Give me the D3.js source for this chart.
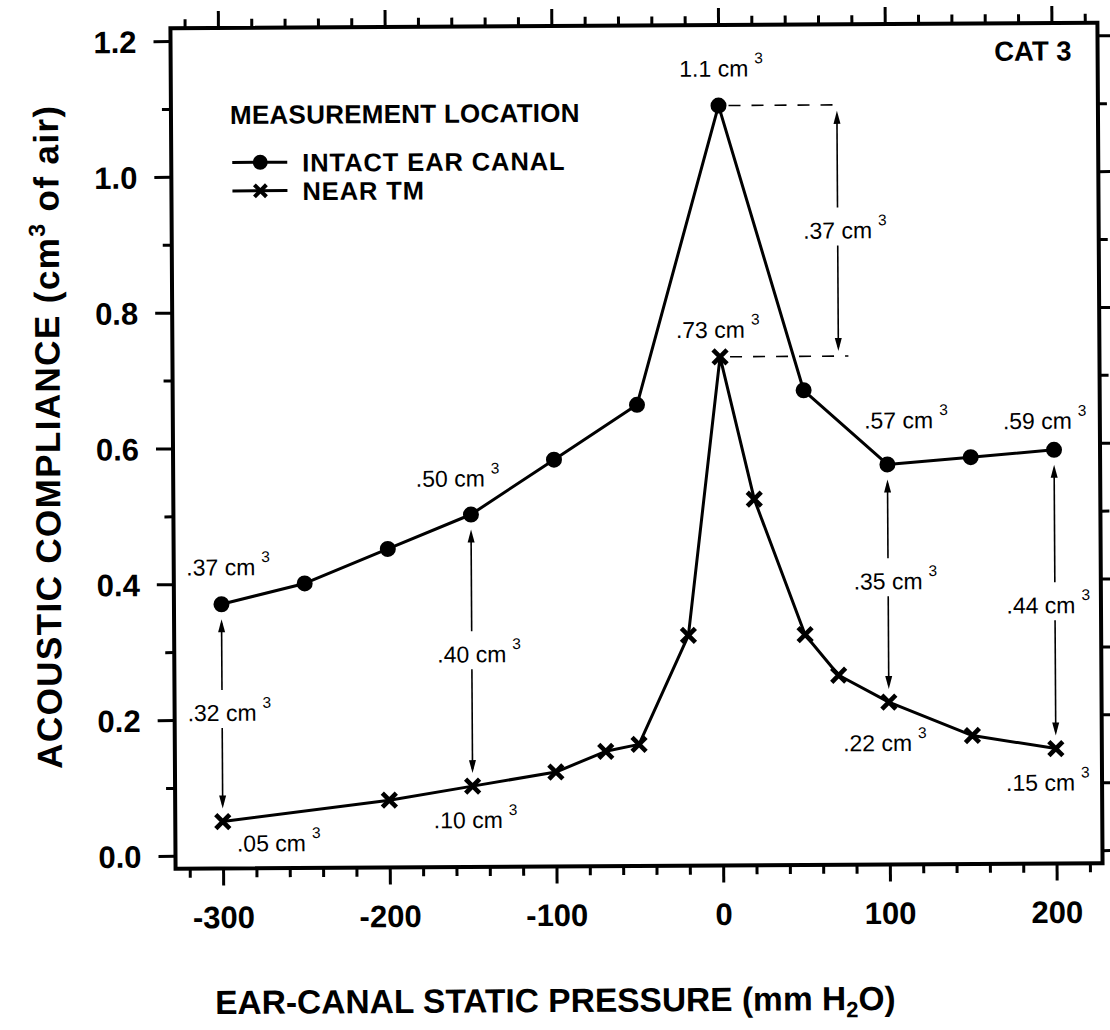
<!DOCTYPE html>
<html>
<head>
<meta charset="utf-8">
<script src="https://cdn.jsdelivr.net/npm/d3@7"></script>
<style>
  html, body { margin: 0; padding: 0; background: #fff; }
  svg { display: block; font-family: "Liberation Sans", Arial, Helvetica, sans-serif; }
</style>
</head>
<body>
<svg id="chart" width="1110" height="1030"></svg>
<script>
// ---- data: acoustic compliance vs. ear-canal static pressure (CAT 3) ----
const intactPressure   = [-300, -250, -200, -150, -100, -50, 0, 50, 100, 150, 200];
const intactCompliance = [0.37, 0.40, 0.45, 0.50, 0.58, 0.66, 1.10, 0.68, 0.57, 0.58, 0.59];

const nearTmPressure   = [-300, -200, -150, -100, -70, -50, -20, 0, 20, 50, 70, 100, 150, 200];
const nearTmCompliance = [0.05, 0.08, 0.10, 0.12, 0.15, 0.16, 0.32, 0.73, 0.52, 0.32, 0.26, 0.22, 0.17, 0.15];

const xMajorTicks = [-300, -200, -100, 0, 100, 200];
const xTickLabels = ["-300", "-200", "-100", "0", "100", "200"];
const yMajorTicks = [0.0, 0.2, 0.4, 0.6, 0.8, 1.0, 1.2];
const yTickLabels = ["0.0", "0.2", "0.4", "0.6", "0.8", "1.0", "1.2"];

// pressures whose values are written next to the markers
const labeledPressures = [-300, -150, 0, 100, 200];
// pressures where the gap between the two curves is marked with an arrow
const gapPressures = [-300, -150, 100, 200];
// pressure column that carries the peak-to-peak arrow
const peakArrowPressure = 71;

const seriesNames = ["INTACT EAR CANAL", "NEAR TM"];

// ---- layout ----
const frame = { left: 173, right: 1100, top: 25.5, bottom: 866 };

const labelOffset = {
  "intact:-300": [-35, -29], "intact:-150": [-55, -28], "intact:0": [-39, -29],
  "intact:100": [-23, -36],  "intact:200": [-51, -21],
  "near:-300": [14, 30],     "near:-150": [-39, 42],    "near:0": [-44, -19],
  "near:100": [-46, 49],     "near:200": [-50, 42]
};
const gapLayout = { "-300": [0, 8], "-150": [0, 12], "100": [0, 6], "200": [-14, 14] };

const svg = d3.select("#chart");
const root = svg.append("g").attr("transform", "rotate(-0.35,636,447)");

const x = d3.scaleLinear().domain([-300, 200]).range([220.5, 1054]);
const y = d3.scaleLinear().domain([0, 1.2]).range([853, 38.2]);

const round2 = v => Math.round(v * 100) / 100;
const fmtVal = v => v >= 1 ? d3.format(".1f")(v) : d3.format(".2f")(v).replace(/^0/, "");

// ---- axes (ticks outward on all four sides) ----
const xMinor = d3.range(-320, 221, 20).filter(v => v % 100 !== 0);
const yMinor = d3.range(1, 12, 2).map(v => v / 10);
const MAJ = 17, MIN = 9;

function styleAxis(sel) {
  sel.select(".domain").remove();
  sel.selectAll(".tick line").attr("stroke", "#000").attr("stroke-width", 3);
}

const gBottom = root.append("g").attr("transform", `translate(0,${frame.bottom})`);
gBottom.append("g").call(d3.axisBottom(x).tickValues(xMinor).tickSize(MIN).tickFormat("")).call(styleAxis);
const gBottomMajor = gBottom.append("g")
  .call(d3.axisBottom(x).tickValues(xMajorTicks).tickSize(MAJ).tickSizeOuter(0)
    .tickFormat((d, i) => xTickLabels[i]))
  .call(styleAxis);
gBottomMajor.selectAll(".tick text")
  .attr("y", 59.5).attr("dy", null)
  .attr("fill", "#000").attr("font-size", 31).attr("font-weight", "bold")
  .attr("font-family", "'Liberation Sans', Arial, sans-serif");

const gTop = root.append("g").attr("transform", `translate(0,${frame.top})`);
gTop.append("g").call(d3.axisTop(x).tickValues(xMinor).tickSize(MIN).tickFormat("")).call(styleAxis);
gTop.append("g").call(d3.axisTop(x).tickValues(xMajorTicks).tickSize(MAJ).tickFormat("")).call(styleAxis);

const gLeft = root.append("g").attr("transform", `translate(${frame.left},0)`);
gLeft.append("g").call(d3.axisLeft(y).tickValues(yMinor).tickSize(MIN).tickFormat("")).call(styleAxis);
const gLeftMajor = gLeft.append("g")
  .call(d3.axisLeft(y).tickValues(yMajorTicks).tickSize(MAJ).tickPadding(17)
    .tickFormat((d, i) => yTickLabels[i]))
  .call(styleAxis);
gLeftMajor.selectAll(".tick text")
  .attr("dy", "0.36em")
  .attr("fill", "#000").attr("font-size", 31).attr("font-weight", "bold")
  .attr("font-family", "'Liberation Sans', Arial, sans-serif");

const gRight = root.append("g").attr("transform", `translate(${frame.right},0)`);
gRight.append("g").call(d3.axisRight(y).tickValues(yMinor).tickSize(MIN).tickFormat("")).call(styleAxis);
gRight.append("g").call(d3.axisRight(y).tickValues(yMajorTicks).tickSize(MAJ).tickFormat("")).call(styleAxis);

// plot frame
root.append("rect")
  .attr("x", frame.left).attr("y", frame.top)
  .attr("width", frame.right - frame.left).attr("height", frame.bottom - frame.top)
  .attr("fill", "none").attr("stroke", "#000").attr("stroke-width", 4);

// ---- axis titles ----
const xTitle = root.append("text")
  .attr("x", 552).attr("y", 1011.5).attr("text-anchor", "middle")
  .attr("font-size", 33.5).attr("font-weight", "bold");
xTitle.append("tspan").text("EAR-CANAL STATIC PRESSURE (mm H");
xTitle.append("tspan").attr("font-size", 22).attr("dy", 7).text("2");
xTitle.append("tspan").attr("dy", -7).text("O)");

const yTitle = root.append("text")
  .attr("transform", "translate(60,433) rotate(-90)")
  .attr("text-anchor", "middle")
  .attr("font-size", 35).attr("font-weight", "bold").attr("letter-spacing", 1.4);
yTitle.append("tspan").text("ACOUSTIC COMPLIANCE (cm");
yTitle.append("tspan").attr("font-size", 23).attr("dy", -14).text("3");
yTitle.append("tspan").attr("dy", 14).text(" of air)");

// panel tag
root.append("text")
  .attr("x", 1074).attr("y", 63).attr("text-anchor", "end")
  .attr("font-size", 27.5).attr("font-weight", "bold").text("CAT 3");

// ---- series ----
const intact = intactPressure.map((p, i) => ({ p, v: intactCompliance[i] }));
const nearTm = nearTmPressure.map((p, i) => ({ p, v: nearTmCompliance[i] }));
const line = d3.line().x(d => x(d.p)).y(d => y(d.v));

root.append("path").datum(intact).attr("d", line)
  .attr("fill", "none").attr("stroke", "#000").attr("stroke-width", 3).attr("stroke-linejoin", "round");
root.append("path").datum(nearTm).attr("d", line)
  .attr("fill", "none").attr("stroke", "#000").attr("stroke-width", 3).attr("stroke-linejoin", "round");

function drawCross(g, cx, cy, r, w) {
  g.append("path")
    .attr("d", `M${cx - r},${cy - r}L${cx + r},${cy + r}M${cx - r},${cy + r}L${cx + r},${cy - r}`)
    .attr("stroke", "#000").attr("stroke-width", w).attr("fill", "none");
}

root.append("g").selectAll("circle").data(intact).join("circle")
  .attr("cx", d => x(d.p)).attr("cy", d => y(d.v)).attr("r", 8).attr("fill", "#000");
const crossG = root.append("g");
nearTm.forEach(d => drawCross(crossG, x(d.p), y(d.v), 7, 4.6));

// ---- "value cm³" annotations ----
function cmLabel(g, px, py, v, anchor) {
  const t = g.append("text").attr("x", px).attr("y", py)
    .attr("font-size", 23).attr("text-anchor", anchor || "start").text(fmtVal(v) + " cm");
  const w = t.node().getComputedTextLength();
  const left = anchor === "middle" ? px - w / 2 : px;
  g.append("text").attr("x", left + w + 6).attr("y", py - 13)
    .attr("font-size", 15.5).text("3");
}

const annot = root.append("g");
const lookup = (arr, p) => arr.find(d => d.p === p);

labeledPressures.forEach(p => {
  const a = lookup(intact, p), b = lookup(nearTm, p);
  const oa = labelOffset["intact:" + p], ob = labelOffset["near:" + p];
  cmLabel(annot, x(p) + oa[0], y(a.v) + oa[1], a.v);
  cmLabel(annot, x(p) + ob[0], y(b.v) + ob[1], b.v);
});

function arrowHead(g, ax, ay, dir) {
  // dir = -1 points up, +1 points down
  g.append("path")
    .attr("d", `M${ax},${ay}L${ax - 3.5},${ay - dir * 13}L${ax + 3.5},${ay - dir * 13}Z`)
    .attr("fill", "#000");
}

function gapArrow(g, ax, yTop, yBot, labelX, baseline, diff) {
  const gapTop = baseline - 31, gapBot = baseline + 7;
  g.append("line").attr("x1", ax).attr("x2", ax).attr("y1", yTop + 4).attr("y2", gapTop)
    .attr("stroke", "#000").attr("stroke-width", 1.6);
  g.append("line").attr("x1", ax).attr("x2", ax).attr("y1", gapBot).attr("y2", yBot - 4)
    .attr("stroke", "#000").attr("stroke-width", 1.6);
  arrowHead(g, ax, yTop, -1);
  arrowHead(g, ax, yBot, 1);
  cmLabel(g, labelX, baseline, diff, "middle");
}

gapPressures.forEach(p => {
  const a = lookup(intact, p), b = lookup(nearTm, p);
  const lay = gapLayout[String(p)];
  const yTop = y(a.v) + 15, yBot = y(b.v) - 13;
  const mid = (y(a.v) + y(b.v)) / 2;
  gapArrow(annot, x(p), yTop, yBot, x(p) + lay[0], mid + lay[1], round2(a.v - b.v));
});

// peak-to-peak difference at 0 mm H2O with dashed guides
{
  const a = lookup(intact, 0), b = lookup(nearTm, 0);
  const ax = x(peakArrowPressure);
  annot.append("line").attr("x1", x(0) + 10).attr("x2", ax + 3)
    .attr("y1", y(a.v)).attr("y2", y(a.v))
    .attr("stroke", "#000").attr("stroke-width", 1.6).attr("stroke-dasharray", "12,11");
  annot.append("line").attr("x1", x(0) + 10).attr("x2", ax + 10)
    .attr("y1", y(b.v)).attr("y2", y(b.v))
    .attr("stroke", "#000").attr("stroke-width", 1.6).attr("stroke-dasharray", "12,11");
  const mid = (y(a.v) + y(b.v)) / 2;
  gapArrow(annot, ax, y(a.v) + 6, y(b.v) - 5, ax, mid + 8, round2(a.v - b.v));
}

// ---- legend ----
const leg = root.append("g");
leg.append("text").attr("x", 232).attr("y", 121.5)
  .attr("font-size", 26).attr("font-weight", "bold").attr("letter-spacing", 0.25)
  .text("MEASUREMENT LOCATION");
const rows = [160, 188.5];
seriesNames.forEach((name, i) => {
  const ly = rows[i];
  leg.append("line").attr("x1", 234).attr("x2", 289).attr("y1", ly).attr("y2", ly)
    .attr("stroke", "#000").attr("stroke-width", 3);
  if (i === 0) leg.append("circle").attr("cx", 262).attr("cy", ly).attr("r", 7.5).attr("fill", "#000");
  else drawCross(leg, 262, ly, 6, 4);
  leg.append("text").attr("x", 304).attr("y", ly + 9.5)
    .attr("font-size", 25.5).attr("font-weight", "bold").attr("letter-spacing", 0.9).text(name);
});
</script>
</body>
</html>
